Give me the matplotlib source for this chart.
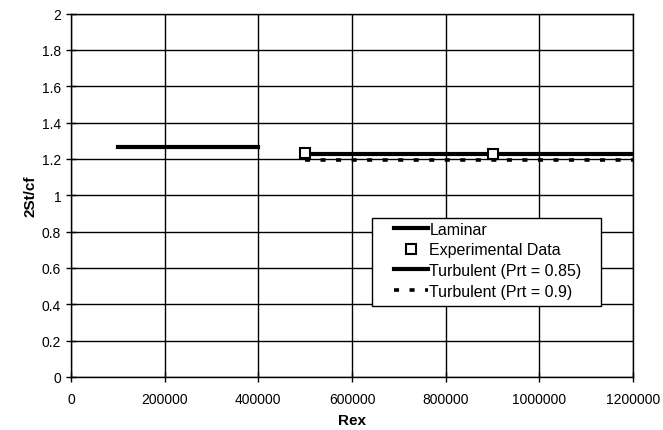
import matplotlib.pyplot as plt
from matplotlib.patches import Rectangle
from matplotlib.ticker import FuncFormatter

plt.rcParams['font.family'] = ['Liberation Sans', 'DejaVu Sans']

# Reynolds number ranges and 2St/cf values
laminar_rex = [100000, 400000]
laminar_val = [1.264, 1.264]

exp_rex = [500000, 900000]
exp_val = [1.235, 1.23]

turb085_rex = [500000, 1200000]
turb085_val = [1.228, 1.228]

turb09_rex = [500000, 1200000]
turb09_val = [1.195, 1.195]

x_ticks = [0, 200000, 400000, 600000, 800000, 1000000, 1200000]
y_ticks = [0, 0.2, 0.4, 0.6, 0.8, 1.0, 1.2, 1.4, 1.6, 1.8, 2.0]

fig = plt.figure(figsize=(6.63, 4.31), dpi=100)
ax = fig.add_axes([0.107, 0.123, 0.848, 0.843])

ax.plot(laminar_rex, laminar_val, color='black', lw=3, label='Laminar', zorder=3)
ax.plot(exp_rex, exp_val, ls='none', marker='s', ms=7.5, mfc='white', mec='black',
        mew=1.5, label='Experimental Data', zorder=5)
ax.plot(turb085_rex, turb085_val, color='black', lw=3,
        label='Turbulent (Prt = 0.85)', zorder=3)
ax.plot(turb09_rex, turb09_val, color='black', lw=2.6, ls=(0, (1.4, 2.9)),
        label='Turbulent (Prt = 0.9)', zorder=4)

ax.set_xlim(0, 1200000)
ax.set_ylim(0, 2)
ax.set_xticks(x_ticks)
ax.set_yticks(y_ticks)
ax.xaxis.set_major_formatter(FuncFormatter(lambda v, p: f'{int(v)}'))
ax.yaxis.set_major_formatter(FuncFormatter(lambda v, p: f'{v:g}'))
ax.tick_params(direction='inout', length=7, width=1, labelsize=10)
ax.tick_params(axis='x', pad=7)
ax.grid(True, color='black', lw=1)
for s in ax.spines.values():
    s.set_linewidth(1)
    s.set_color('black')

ax.set_xlabel('Rex', fontsize=11, fontweight='bold', labelpad=5)
ax.set_ylabel('2St/cf', fontsize=11, fontweight='bold', labelpad=3)

# legend box with wide side margins, drawn separately from the entries
ax.add_patch(Rectangle((0.536, 0.196), 0.4075, 0.242, transform=ax.transAxes,
                       facecolor='white', edgecolor='black', lw=1, zorder=6))
leg = ax.legend(loc='upper left', bbox_to_anchor=(0.575, 0.427), fontsize=11.5,
                frameon=False, borderpad=0, borderaxespad=0,
                handlelength=2.1, handletextpad=0.1, labelspacing=0.35)
leg.set_zorder(7)

fig.savefig('out.png', dpi=100)
